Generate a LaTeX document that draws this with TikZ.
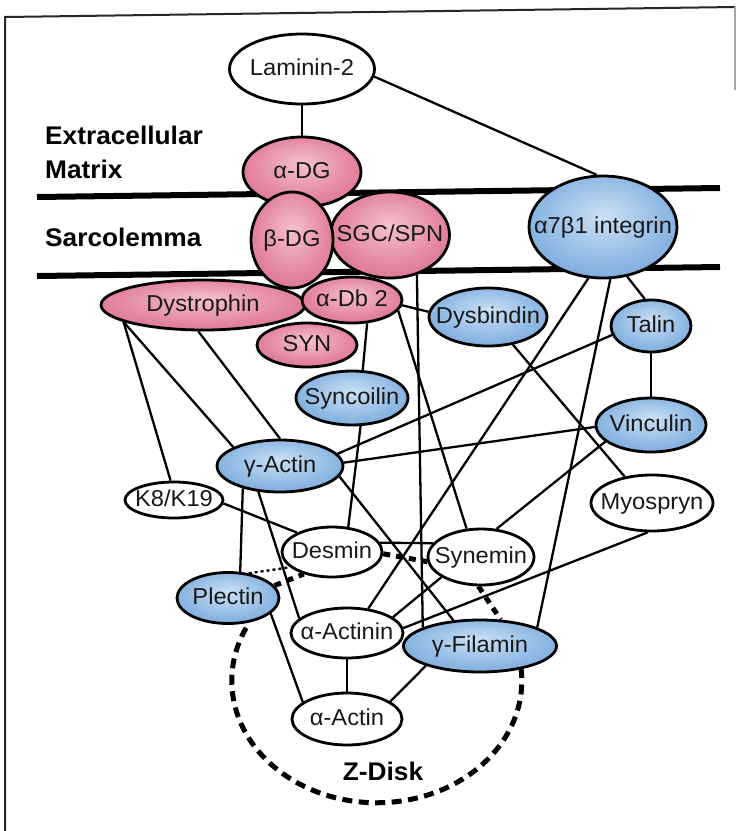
\documentclass[tikz,border=0pt]{standalone}
\usepackage{fontspec}
\setmainfont{Liberation Sans}[FakeStretch=1.03]
\usetikzlibrary{shapes.geometric}
\pgfdeclarelayer{bg}
\pgfsetlayers{bg,main}
\pgfdeclareradialshading{redball}{\pgfpoint{0bp}{6bp}}{rgb(0bp)=(0.96,0.76,0.81); rgb(22bp)=(0.89,0.52,0.62); rgb(50bp)=(0.80,0.30,0.42)}
\pgfdeclareradialshading{blueball}{\pgfpoint{0bp}{6bp}}{rgb(0bp)=(0.80,0.88,0.96); rgb(22bp)=(0.55,0.72,0.89); rgb(50bp)=(0.30,0.52,0.78)}
\newcommand{\protxt}[1]{\makebox[0pt][c]{#1}}
\tikzset{
  prot/.style={ellipse, draw=black, line width=2.8pt, inner sep=0pt, text height=16.5pt, text depth=4.5pt, font=\fontsize{23}{23}\selectfont, text=black!90},
  rnode/.style={prot, shade, shading=redball},
  bnode/.style={prot, shade, shading=blueball},
  wnode/.style={prot, fill=white},
  sz/.style 2 args={minimum width=#1pt, minimum height=#2pt},
  conn/.style={line width=2.3pt, black},
  thickdash/.style={line width=5pt, dash pattern=on 7pt off 6pt},
  membrane/.style={line width=6pt, black},
  zdisk/.style={line width=5pt, dash pattern=on 10pt off 6.5pt},
  regionlabel/.style={font=\bfseries\fontsize{25.5}{34}\selectfont, inner sep=0pt, align=left},
}
\begin{document}
\begin{tikzpicture}[x=1pt, y=-1pt]
\useasboundingbox (0,0) rectangle (736,831);

% region labels
\node[regionlabel, anchor=north west] (ecm) at (45,126) {Extracellular\\Matrix};
\node[regionlabel, anchor=base west] (sarc) at (45,246) {Sarcolemma};
\node[regionlabel, anchor=base] (zd) at (383,780) {Z-Disk};

% proteins
\node[wnode, sz={145}{70}] (lam) at (302,69) {\protxt{Laminin-2}};
\node[rnode, sz={118}{70}] (adg) at (302,172) {\protxt{α-DG}};
\node[rnode, sz={119}{86}] (sgc) at (390,235) {\protxt{SGC/SPN}};
\node[rnode, sz={82}{96}] (bdg) at (292,240) {\protxt{β-DG}};
\node[bnode, sz={148}{102}] (itg) at (603,227) {\protxt{α7β1 integrin}};
\node[rnode, sz={204}{50}] (dys) at (203,305) {\protxt{Dystrophin}};
\node[rnode, sz={100}{46}] (adb) at (352,300) {\protxt{α-Db 2}};
\node[rnode, sz={100}{44}] (syn) at (307,345) {\protxt{SYN}};
\node[bnode, sz={118}{58}] (dysb) at (488,317) {\protxt{Dysbindin}};
\node[bnode, sz={80}{52}] (tal) at (651,326) {\protxt{Talin}};
\node[bnode, sz={112}{54}] (sync) at (352,398) {\protxt{Syncoilin}};
\node[bnode, sz={110}{54}] (vin) at (651,425) {\protxt{Vinculin}};
\node[bnode, sz={126}{52}] (gact) at (280,466) {\protxt{γ-Actin}};
\node[wnode, sz={98}{36}] (k8) at (174,500) {\protxt{K8/K19}};
\node[wnode, sz={122}{56}] (myo) at (652,503) {\protxt{Myospryn}};
\node[wnode, sz={100}{50}] (des) at (332,552) {\protxt{Desmin}};
\node[wnode, sz={106}{56}] (syne) at (481,557) {\protxt{Synemin}};
\node[bnode, sz={102}{51}] (plec) at (228,598) {\protxt{Plectin}};
\node[wnode, sz={112}{50}] (aact) at (347,633) {\protxt{α-Actinin}};
\node[bnode, sz={153}{52}] (gfil) at (480,646) {\protxt{γ-Filamin}};
\node[wnode, sz={110}{52}] (aactin) at (347,719) {\protxt{α-Actin}};

\begin{pgfonlayer}{bg}
  \fill[white] (0,0) rectangle (736,831);
  % frame
  \draw[line width=2pt, black!85] (5,831) -- (5,17) -- (735,7);
  \draw[line width=2pt, black!35] (735,7) -- (735,90);
  % membranes
  \draw[membrane] (37,197) -- (720,188);
  \draw[membrane] (37,276) -- (720,267);
  % Z-disk
  \draw[zdisk] (521,668) coordinate (zstart) arc[start angle=-6, end angle=208, x radius=145, y radius=122];
  % connectors
  \draw[conn] (lam.south) -- (adg.north);
  \draw[conn] (lam.-6) -- (itg.97);
  \draw[conn] (dys.-168) -- (k8.100);
  \draw[conn] (dys.-168) -- (gact.158);
  \draw[conn] (dys.-100) -- (gact.90);
  \draw[conn] (adb.-57) -- (sync.69);
  \draw[conn] (adb.-6) -- (dysb.175);
  \draw[conn] (adb.-13) -- (syne.117);
  \draw[conn] (sgc.-56) -- (gfil.162);
  \draw[conn] (itg.-106) -- (aact.49);
  \draw[conn] (itg.-82) -- (gfil.18);
  \draw[conn] (itg.-64) -- (tal.103);
  \draw[conn] (tal.193) -- (gact.12);
  \draw[conn] (tal.south) -- (vin.north);
  \draw[conn] (vin.182) -- (gact.3);
  \draw[conn] (vin.200) -- (syne.61);
  \draw[conn] (dysb.-48) -- (myo.136);
  \draw[conn] (myo.-98) -- (aact.5);
  \draw[conn] (sync.-73) -- (des.57);
  \draw[conn] (k8.-4) -- (des.151);
  \draw[conn] (gact.211) -- (plec.65);
  \draw[conn] (gact.-130) -- (aact.163);
  \draw[conn] (gact.-10) -- (gfil.136);
  \draw[conn] (plec.-20) -- (aactin.159);
  \draw[conn] (aact.19) -- (syne.207);
  \draw[conn] (aact.south) -- (aactin.north);
  \draw[conn] (gfil.200) -- (aactin.22);
  \draw[conn] (des.11) -- (syne.164);
  \draw[thickdash] (des.-2) -- (syne.185);
  \draw[conn, dashed] (plec.50) -- (des.200);
  \draw[thickdash] (plec.15) -- (des.218);
  \draw[thickdash] (syne.-95) -- (gfil.52);
\end{pgfonlayer}
\end{tikzpicture}
\end{document}
